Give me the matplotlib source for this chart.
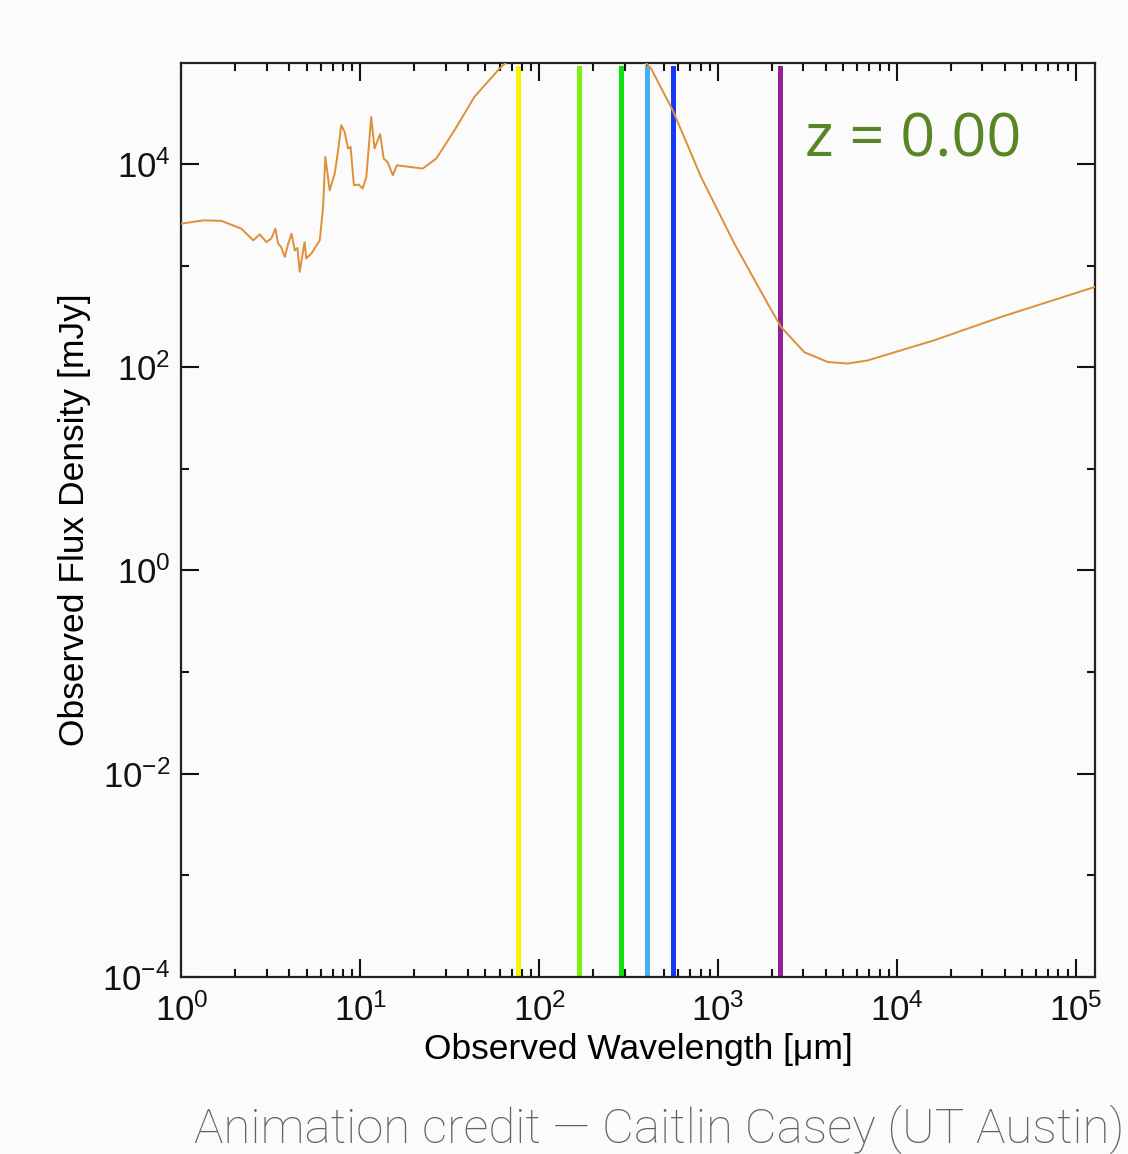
import matplotlib
matplotlib.use("Agg")
import matplotlib.pyplot as plt
from matplotlib.ticker import FixedLocator, LogLocator, NullFormatter, LogFormatterMathtext

plt.rcParams['font.family'] = ['Liberation Sans', 'DejaVu Sans']
plt.rcParams['mathtext.fontset'] = 'custom'
plt.rcParams['mathtext.rm'] = 'Liberation Sans'
plt.rcParams['mathtext.it'] = 'Liberation Sans'
plt.rcParams['axes.unicode_minus'] = False

# SED: observed wavelength [um] and flux density [mJy]
wavelength = [1.0, 1.32, 1.67, 2.16, 2.52, 2.74, 2.98, 3.18, 3.35, 3.47, 3.60,
              3.78, 3.93, 4.12, 4.30, 4.45, 4.58, 4.75, 4.88, 4.98, 5.32, 5.93,
              6.19, 6.37, 6.74, 7.19, 7.51, 7.82, 8.17, 8.53, 8.82, 9.2, 9.8,
              10.3, 10.8, 11.5, 12.0, 12.9, 13.5, 14.2, 15.2, 16.0, 19.0, 22.3,
              26.6, 33.6, 43.4, 60.1, 80, 110, 150, 220, 300, 422, 558, 803,
              1233, 1893, 2248, 3035, 4100, 5300, 6860, 16200, 38100, 128000]
flux = [2600, 2800, 2770, 2320, 1780, 2040, 1710, 1860, 2320, 1650, 1540,
        1220, 1600, 2070, 1420, 1500, 870, 1300, 1710, 1180, 1320, 1780,
        3790, 11800, 5540, 8100, 13700, 24200, 20800, 14300, 14800, 6210, 6300,
        5750, 7500, 29200, 14300, 19800, 11400, 10500, 7780, 9770, 9400, 9060,
        11400, 21600, 46000, 87700, 140000, 200000, 240000, 220000, 170000, 87700, 34000, 7500,
        1656, 425, 250, 141, 113, 109, 117, 185, 313, 620]

# observing bands (vertical lines)
band_wavelength = [76, 167, 287, 400, 563, 2220]
band_colors = ['#f4f400', '#80ee10', '#10e010', '#4aaef2', '#1438f5', '#8e2296']

redshift_label = "z = 0.00"
credit = "Animation credit \u2014 Caitlin Casey (UT Austin)"

bg = '#fbfbfb'
fig = plt.figure(figsize=(11.28, 11.54), dpi=100, facecolor=bg)
ax = fig.add_axes([0.1609, 0.1536, 0.8098, 0.7921], facecolor=bg)

for w, c in zip(band_wavelength, band_colors):
    ax.axvline(w, ymin=0, ymax=0.994, color=c, lw=3.6, zorder=2)

ax.plot(wavelength, flux, color='#df8f38', lw=1.4, zorder=3)

ax.set_xscale('log')
ax.set_yscale('log')
ax.set_xlim(1.0, 1.28e5)
ax.set_ylim(1e-4, 1e5)

ax.xaxis.set_major_locator(LogLocator(base=10, numticks=10))
ax.xaxis.set_minor_locator(LogLocator(base=10, subs=range(2, 10), numticks=20))
ax.xaxis.set_minor_formatter(NullFormatter())
ax.yaxis.set_major_locator(FixedLocator([1e-4, 1e-2, 1e0, 1e2, 1e4]))
ax.yaxis.set_minor_locator(FixedLocator([1e-3, 1e-1, 1e1, 1e3]))
ax.yaxis.set_major_formatter(LogFormatterMathtext())
ax.yaxis.set_minor_formatter(NullFormatter())

ax.tick_params(which='both', direction='in', top=True, right=True, width=1.5, colors='#111111')
ax.tick_params(which='major', length=13, labelsize=25)
ax.tick_params(axis='x', which='major', pad=12)
ax.tick_params(axis='y', which='major', pad=8)
ax.tick_params(which='minor', length=6)
for s in ax.spines.values():
    s.set_linewidth(1.6)
    s.set_color('#222222')

ax.set_xlabel("Observed Wavelength [\u03bcm]", fontsize=25.5, labelpad=4)
ax.set_ylabel("Observed Flux Density [mJy]", fontsize=25.5, labelpad=8)

ax.text(0.683, 0.915, redshift_label, transform=ax.transAxes, fontsize=44,
        color='#5a8524', ha='left', va='center', family=['Open Sans', 'DejaVu Sans'])

fig.text(0.997, 0.021, credit, ha='right', va='center', fontsize=35.5,
         color='#5f636a', family=['Roboto', 'DejaVu Sans'], fontweight='light')

fig.savefig('out.png', dpi=100, facecolor=bg)
